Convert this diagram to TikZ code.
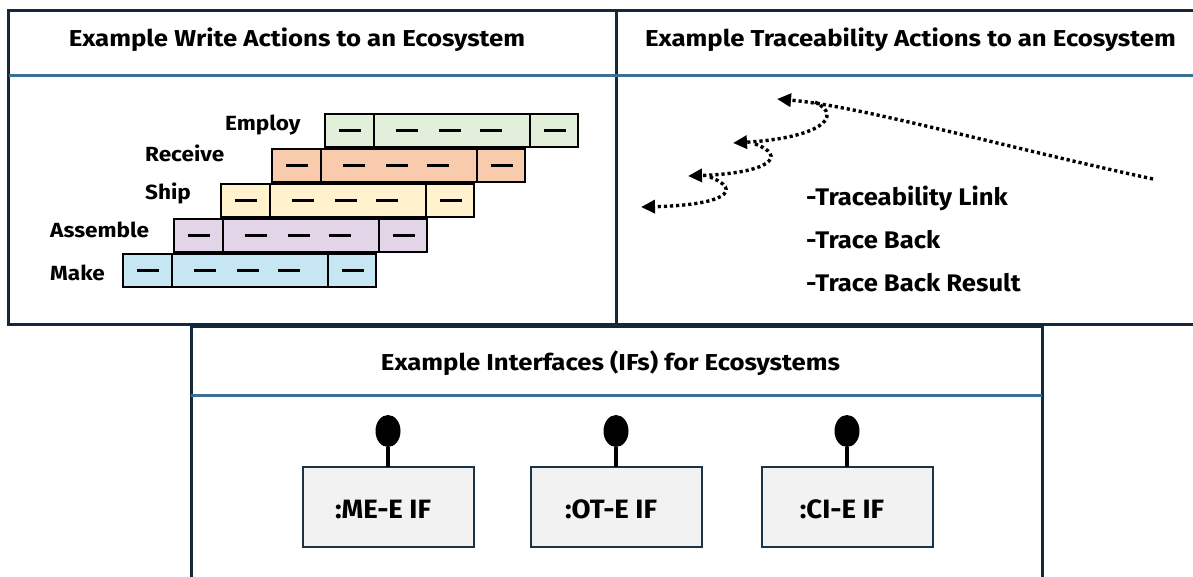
\documentclass[tikz,border=0pt]{standalone}
\usepackage{graphicx}
\usepackage{fontspec}
\setmainfont{Fira Sans}
\usetikzlibrary{arrows.meta,shapes.geometric}

\definecolor{framecol}{HTML}{13293B}
\definecolor{sepcol}{HTML}{3A7194}
\definecolor{employcol}{HTML}{E2EFDA}
\definecolor{receivecol}{HTML}{F8CBAD}
\definecolor{shipcol}{HTML}{FFF2CC}
\definecolor{assemblecol}{HTML}{E2D5E7}
\definecolor{makecol}{HTML}{C6E6F4}
\definecolor{ifcol}{HTML}{F2F2F2}
\definecolor{ifborder}{HTML}{1B3344}

% horizontally widened text
\newcommand{\widetxt}[2]{\scalebox{#1}[1]{#2}}

\tikzset{
  frameline/.style={draw=framecol, line width=3pt},
  sepline/.style={draw=sepcol, line width=2.5pt},
  title/.style={font=\fontsize{23}{27}\selectfont\bfseries, anchor=base, inner sep=0pt},
  barline/.style={draw=black, line width=2.2pt},
  bardash/.style={draw=black, line width=3pt},
  barlabel/.style={font=\fontsize{20.5}{24}\selectfont\bfseries, anchor=base west, inner sep=0pt},
  tracelink/.style={line width=3.4pt, dash pattern=on 3.2pt off 2.9pt,
    -{Triangle[length=14pt,width=13pt]}},
  tracetext/.style={font=\fontsize{24}{28}\selectfont\bfseries, anchor=base west, inner sep=0pt},
  ifbox/.style={draw=ifborder, fill=ifcol, line width=2pt, minimum width=171pt,
    minimum height=80pt, inner sep=0pt, outer sep=0pt, anchor=north},
  iftext/.style={font=\fontsize{26.5}{30}\selectfont\bfseries, anchor=base, inner sep=0pt},
  stem/.style={line width=4pt, draw=black},
  knob/.style={ellipse, fill=black, minimum width=25pt, minimum height=32pt, inner sep=0pt}
}

\begin{document}
\begin{tikzpicture}[x=1pt,y=-1pt]
\useasboundingbox (0,0) rectangle (1193,577);
\fill[white] (0,0) rectangle (1193,577);

% ---- panel frames ----
\draw[frameline] (8.5,10.5) rectangle (616,324.5);
\draw[frameline] (616,10.5) rectangle (1205,324.5);
\draw[sepline] (8.5,75.5) -- (1205,75.5);
\draw[frameline] (191,590) -- (191,326) -- (1042,326) -- (1042,590);
\draw[sepline] (191,395.5) -- (1042,395.5);

% ---- panel titles ----
\node[title] (t1) at (297,47) {\widetxt{1.12}{Example Write Actions to an Ecosystem}};
\node[title] (t2) at (910.5,47) {\widetxt{1.12}{Example Traceability Actions to an Ecosystem}};
\node[title] (t3) at (610.5,370) {\widetxt{1.12}{Example Interfaces (IFs) for Ecosystems}};

% ---- staggered write-action bars ----
\foreach \x/\y/\c in {325/114/employcol, 272/149/receivecol, 221/184/shipcol,
                      174/219/assemblecol, 123/254/makecol}{
  \draw[barline, fill=\c] (\x,\y) rectangle ++(253,33);
  \draw[barline] (\x+49,\y) -- ++(0,33);
  \draw[barline] (\x+205,\y) -- ++(0,33);
  \foreach \d in {25,82,125,166,230}
    \draw[bardash] (\x+\d-11,\y+16.5) -- ++(22,0);
}
\node[barlabel] (lemploy)   at (225,131) {\widetxt{1.1}{Employ}};
\node[barlabel] (lreceive)  at (145,162) {\widetxt{1.1}{Receive}};
\node[barlabel] (lship)     at (145,200) {\widetxt{1.1}{Ship}};
\node[barlabel] (lassemble) at (50,238)  {\widetxt{1.1}{Assemble}};
\node[barlabel] (lmake)     at (50,280)  {\widetxt{1.1}{Make}};

% ---- traceability links ----
\coordinate (a0) at (1153,179);
\coordinate (a1) at (777,99);
\coordinate (b0) at (815,102);
\coordinate (b1) at (733,143);
\coordinate (c0) at (755,144);
\coordinate (c1) at (688,176);
\coordinate (d0) at (710,177);
\coordinate (d1) at (641,207);
\draw[tracelink] (a0) .. controls (1000,146) and (860,106) .. (a1);
\draw[tracelink] (b0) .. controls (845,117) and (818,138) .. (b1);
\draw[tracelink] (c0) .. controls (788,156) and (770,173) .. (c1);
\draw[tracelink] (d0) .. controls (743,190) and (726,205) .. (d1);

\node[tracetext] (tl1) at (806,206) {\widetxt{1.07}{-Traceability Link}};
\node[tracetext] (tl2) at (806,248) {\widetxt{1.07}{-Trace Back}};
\node[tracetext] (tl3) at (806,291) {\widetxt{1.07}{-Trace Back Result}};

% ---- interface boxes with lollipop ports ----
\foreach \n/\cx/\lbl in {me/388/{:ME-E IF}, ot/616/{:OT-E IF}, ci/847/{:CI-E IF}}{
  \node[ifbox] (box\n) at (\cx,467) {};
  \node[knob] (knob\n) at (\cx,431) {};
  \draw[stem] (box\n.north) -- (knob\n.south);
  \node[iftext] (txt\n) at (\cx-5,518) {\widetxt{1.04}{\lbl}};
}
\end{tikzpicture}
\end{document}
